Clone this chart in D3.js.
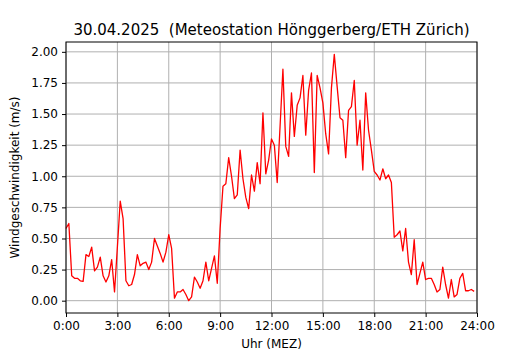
<!DOCTYPE html>
<html>
<head>
<meta charset="utf-8">
<script src="https://cdn.jsdelivr.net/npm/d3@7"></script>
<style>
  body { margin: 0; background: #fff; }
  text { font-family: "DejaVu Sans", sans-serif; fill: #000; }
  .grid line { stroke: #b0b0b0; stroke-width: 1; }
</style>
</head>
<body>
<script>
// wind speed every 10 minutes, 30.04.2025
var windSpeed = [
  0.58, 0.62, 0.20, 0.18, 0.18, 0.16, 0.155, 0.37, 0.355, 0.43,
  0.24, 0.27, 0.35, 0.20, 0.15, 0.20, 0.33, 0.07, 0.43, 0.80,
  0.66, 0.16, 0.12, 0.13, 0.21, 0.37, 0.28, 0.30, 0.31, 0.25,
  0.31, 0.50, 0.44, 0.38, 0.31, 0.39, 0.53, 0.42, 0.02, 0.07,
  0.07, 0.09, 0.05, 0.00, 0.03, 0.19, 0.15, 0.10, 0.16, 0.31,
  0.16, 0.26, 0.36, 0.14, 0.58, 0.92, 0.94, 1.15, 1.00, 0.82,
  0.85, 1.21, 0.98, 0.83, 0.74, 1.01, 0.88, 1.11, 0.94, 1.51,
  1.02, 1.13, 1.30, 1.25, 0.95, 1.40, 1.86, 1.24, 1.16, 1.67,
  1.32, 1.57, 1.63, 1.81, 1.33, 1.69, 1.83, 1.03, 1.81, 1.71,
  1.59, 1.34, 1.18, 1.71, 1.98, 1.72, 1.47, 1.45, 1.15, 1.53,
  1.56, 1.77, 1.25, 1.45, 1.05, 1.67, 1.37, 1.21, 1.04, 1.01,
  0.97, 1.06, 0.98, 1.01, 0.95, 0.51, 0.53, 0.56, 0.40, 0.58,
  0.31, 0.21, 0.49, 0.13, 0.22, 0.31, 0.17, 0.18, 0.18, 0.13,
  0.07, 0.09, 0.27, 0.13, 0.02, 0.17, 0.03, 0.05, 0.18, 0.22,
  0.08, 0.08, 0.09, 0.075
];
var stepMinutes = 10;
var xTicks = [0, 3, 6, 9, 12, 15, 18, 21, 24];
var yTicks = [0, 0.25, 0.5, 0.75, 1, 1.25, 1.5, 1.75, 2];
var title = "30.04.2025  (Meteostation Hönggerberg/ETH Zürich)";

var width = 530, height = 350;
var margin = {left: 66, right: 53, top: 42, bottom: 37};

var svg = d3.select("body").append("svg")
  .attr("width", width)
  .attr("height", height);

var data = windSpeed.map((v, i) => ({t: i * stepMinutes / 60, v: v}));

var ext = d3.extent(windSpeed), pad = (ext[1] - ext[0]) * 0.05;

var x = d3.scaleLinear().domain([0, 24]).range([margin.left, width - margin.right]);
var y = d3.scaleLinear().domain([ext[0] - pad, ext[1] + pad]).range([height - margin.bottom, margin.top]);

// grid
var grid = svg.append("g").attr("class", "grid");
grid.selectAll(".gx").data(xTicks).enter().append("line")
  .attr("x1", d => x(d)).attr("x2", d => x(d))
  .attr("y1", margin.top).attr("y2", height - margin.bottom);
grid.selectAll(".gy").data(yTicks).enter().append("line")
  .attr("x1", margin.left).attr("x2", width - margin.right)
  .attr("y1", d => y(d)).attr("y2", d => y(d));

// wind line
var line = d3.line().x(d => x(d.t)).y(d => y(d.v));
svg.append("path")
  .datum(data)
  .attr("d", line)
  .attr("fill", "none")
  .attr("stroke", "#ff0000")
  .attr("stroke-width", 1.3)
  .attr("stroke-linejoin", "round");

// frame
svg.append("rect")
  .attr("x", margin.left).attr("y", margin.top)
  .attr("width", width - margin.left - margin.right)
  .attr("height", height - margin.top - margin.bottom)
  .attr("fill", "none").attr("stroke", "#000").attr("stroke-width", 1);

// axes
var xAxis = svg.append("g")
  .attr("transform", `translate(0,${height - margin.bottom})`)
  .call(d3.axisBottom(x).tickValues(xTicks).tickFormat(d => d + ":00").tickSize(4).tickPadding(4));
var yAxis = svg.append("g")
  .attr("transform", `translate(${margin.left},0)`)
  .call(d3.axisLeft(y).tickValues(yTicks).tickFormat(d3.format(".2f")).tickSize(4).tickPadding(4));

[xAxis, yAxis].forEach(a => {
  a.select(".domain").remove();
  a.selectAll("text").style("font-size", "12px").attr("fill", "#000").style("font-family", "DejaVu Sans");
  a.selectAll("line").attr("stroke", "#000");
});

svg.append("text")
  .attr("x", (margin.left + width - margin.right) / 2)
  .attr("y", 34.5)
  .attr("text-anchor", "middle")
  .style("font-size", "15px")
  .style("white-space", "pre")
  .text(title);

svg.append("text")
  .attr("x", (margin.left + width - margin.right) / 2)
  .attr("y", 348)
  .attr("text-anchor", "middle")
  .style("font-size", "12px")
  .text("Uhr (MEZ)");

svg.append("text")
  .attr("transform", `translate(19,${(margin.top + height - margin.bottom) / 2}) rotate(-90)`)
  .attr("text-anchor", "middle")
  .style("font-size", "12px")
  .text("Windgeschwindigkeit (m/s)");
</script>
</body>
</html>
